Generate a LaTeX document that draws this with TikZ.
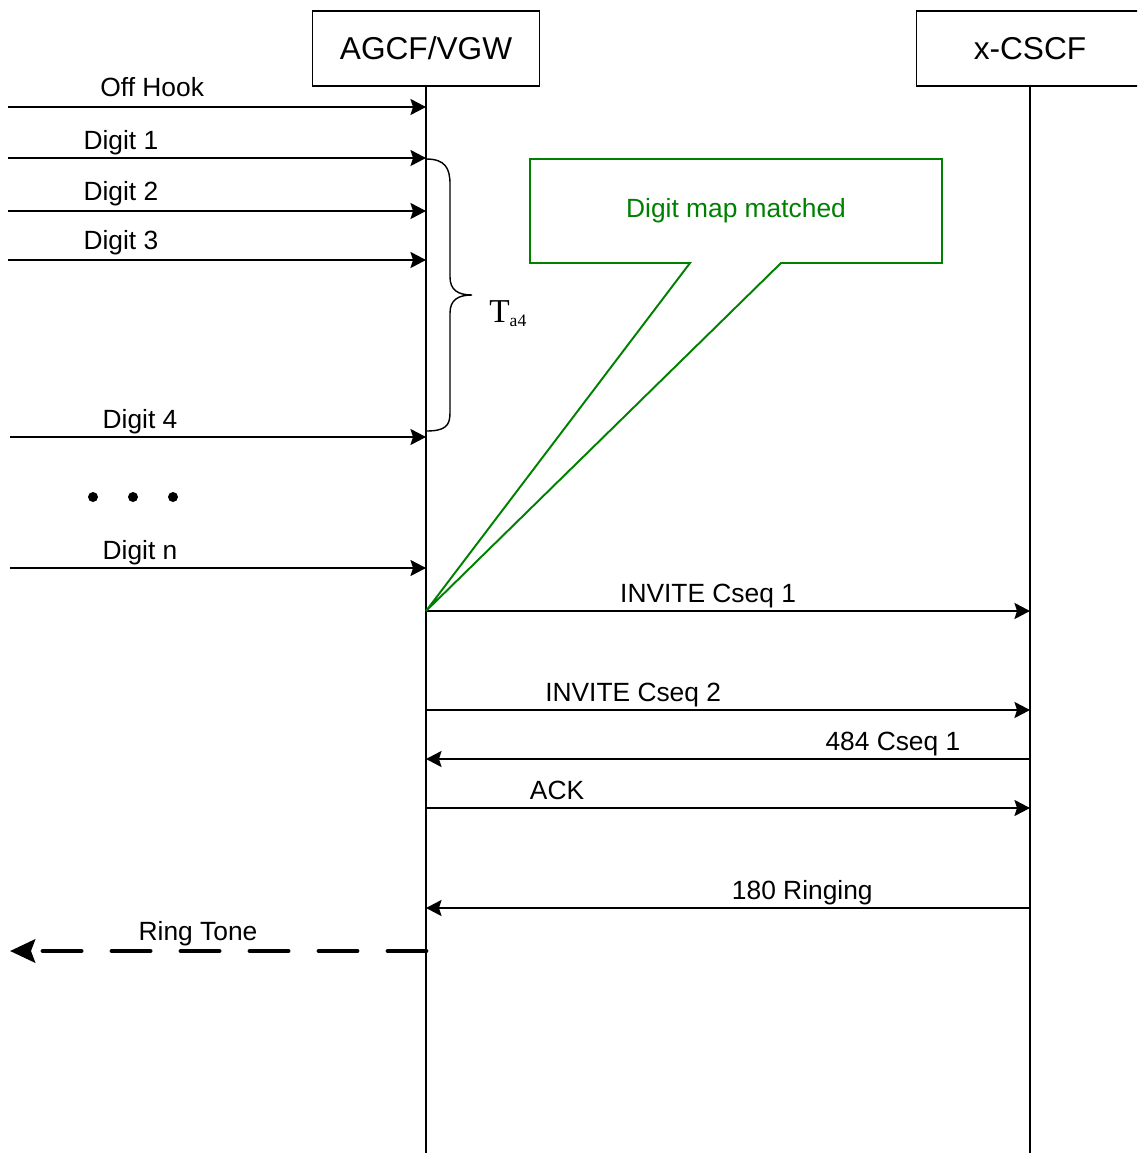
\documentclass[tikz,border=0pt]{standalone}
\usepackage{fontspec}
\setmainfont{Liberation Sans}
\newfontfamily\timesfont{Liberation Serif}
\usepackage{tikz}
\usetikzlibrary{
  arrows.meta,
  positioning,
  calc
}
\definecolor{sqNote}{HTML}{008000}
\tikzset{
  entity/.style={
    draw, line width=1.1pt, minimum width=4.54cm, minimum height=1.5cm,
    font=\fontsize{18}{22}\selectfont, inner sep=0pt
  },
  lifeline/.style={line width=1.1pt},
  msg/.style={-{Stealth[length=3.1mm, width=3.2mm, inset=0.5mm]}, line width=1.1pt},
  ringtone/.style={-{Stealth[length=5mm, width=4.6mm, inset=0.8mm]}, line width=2.8pt,
    line cap=round, dash pattern=on 7.6mm off 6.2mm},
  msglabel/.style={font=\fontsize{15}{18}\selectfont, anchor=base, yshift=1.7mm, inner sep=0pt},
  note/.style={draw=sqNote, line width=1.1pt},
  notetext/.style={text=sqNote, font=\fontsize{15}{18}\selectfont, inner sep=0pt},
  timer/.style={line width=0.8pt},
  timerlabel/.style={font=\timesfont\fontsize{19}{22}\selectfont, inner sep=0pt}
}

\begin{document}
\begin{tikzpicture}[x=0.02cm, y=-0.02cm]
  \useasboundingbox (0,0) rectangle (1137,1153);
  \clip (0,0) rectangle (1137,1153);

  % entities and lifelines
  \node[entity] (agcf) at (426,48.5) {AGCF/VGW};
  \node[entity] (cscf) at (1030,48.5) {x-CSCF};
  \coordinate (agcf-end) at (426,1153);
  \coordinate (cscf-end) at (1030,1153);
  \draw[lifeline] (agcf.south) -- (agcf-end);
  \draw[lifeline] (cscf.south) -- (cscf-end);

  % subscriber side
  \coordinate (offhook-in) at (8,107);
  \coordinate (d1-in) at (8,158);
  \coordinate (d2-in) at (8,211);
  \coordinate (d3-in) at (8,260);
  \coordinate (d4-in) at (10,437);
  \coordinate (dn-in) at (10,568);
  \draw[msg] (offhook-in) -- node[msglabel, pos=.345, yshift=0.4mm] {Off Hook} (offhook-in -| agcf);
  \draw[msg] (d1-in) -- node[msglabel, pos=.27] {Digit 1} (d1-in -| agcf);
  \draw[msg] (d2-in) -- node[msglabel, pos=.27, yshift=0.4mm] {Digit 2} (d2-in -| agcf);
  \draw[msg] (d3-in) -- node[msglabel, pos=.27, yshift=0.4mm] {Digit 3} (d3-in -| agcf);
  \draw[msg] (d4-in) -- node[msglabel, pos=.3125] {Digit 4} (d4-in -| agcf);
  \draw[msg] (dn-in) -- node[msglabel, pos=.3125] {Digit n} (dn-in -| agcf);
  \foreach \x in {93,133,173}
    \fill (\x,497) circle (0.1cm);

  % inter-digit timer
  \draw[timer] (426,159) .. controls (445,159) and (450,168) .. (450,184)
    -- (450,277) .. controls (450,290) and (458,295) .. (472,295)
    .. controls (458,295) and (450,300) .. (450,313)
    -- (450,413) .. controls (450,426) and (445,431) .. (426,431);
  \node[timerlabel, anchor=base west] (ta4) at (489,322)
    {T\raisebox{-0.8mm}{\fontsize{10}{12}\selectfont a4}};

  % SIP side
  \coordinate (inv1) at (agcf |- 0,611);
  \coordinate (inv2) at (agcf |- 0,710);
  \coordinate (err484) at (cscf |- 0,759);
  \coordinate (ack) at (agcf |- 0,808);
  \coordinate (ring180) at (cscf |- 0,908);
  \draw[msg] (inv1) -- node[msglabel, pos=.467] {INVITE Cseq 1} (inv1 -| cscf);
  \draw[msg] (inv2) -- node[msglabel, pos=.343] {INVITE Cseq 2} (inv2 -| cscf);
  \draw[msg] (err484) -- node[msglabel, pos=.227] {484 Cseq 1} (err484 -| agcf);
  \draw[msg] (ack) -- node[msglabel, pos=.217] {ACK} (ack -| cscf);
  \draw[msg] (ring180) -- node[msglabel, pos=.377] {180 Ringing} (ring180 -| agcf);

  % ring tone back to the subscriber
  \coordinate (tone) at (agcf |- 0,951);
  \coordinate (tone-out) at (10,951);
  \draw[ringtone] (tone) -- node[msglabel, pos=.548, yshift=0.4mm] {Ring Tone} (tone-out);

  % digit map callout
  \node[notetext] (digitmap) at (736,211) {Digit map matched};
  \draw[note] (530,159) -- (942,159) -- (942,263) -- (781,263) -- (inv1)
    -- (690,263) -- (530,263) -- cycle;
\end{tikzpicture}
\end{document}
